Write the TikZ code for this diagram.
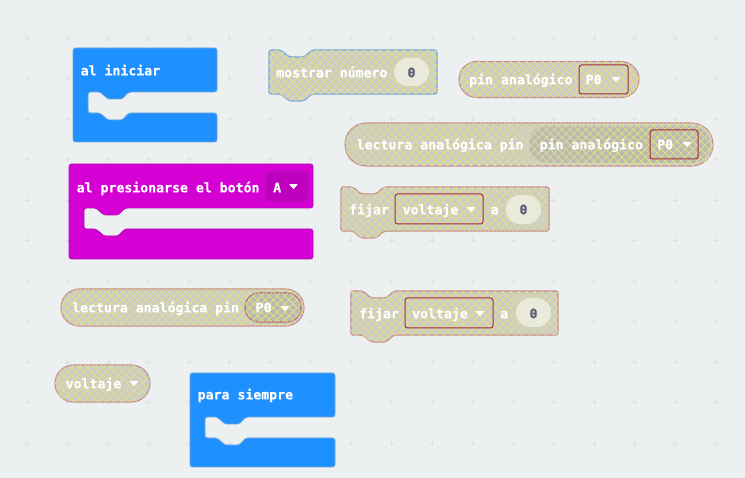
\documentclass[tikz,border=0pt]{standalone}
\usepackage{fontspec}
\setmonofont{DejaVu Sans Mono}[BoldFeatures={FakeBold=0.35}]
\usetikzlibrary{patterns.meta}
\definecolor{fondo}{HTML}{ECF0F1}
\definecolor{cruz}{HTML}{DDE1E3}
\definecolor{azul}{HTML}{1E90FF}
\definecolor{azulb}{HTML}{6FA8DC}
\definecolor{magenta}{HTML}{D400D4}
\definecolor{magentab}{HTML}{B010B0}
\definecolor{gris}{HTML}{CCCCC8}
\definecolor{grisosc}{HTML}{BABAB4}
\definecolor{amarillo}{HTML}{E0E084}
\definecolor{rojizo}{HTML}{C88A8A}
\definecolor{rojo}{HTML}{A82A3A}
\definecolor{crema}{HTML}{E9EAD9}
\definecolor{cero}{HTML}{575E75}
\tikzset{
    texto/.style={anchor=base west, inner sep=0pt, text=white, font=\fontsize{13.2}{13.2}\selectfont\ttfamily\bfseries},
    numero/.style={anchor=base, inner sep=0pt, text=cero, font=\fontsize{13.2}{13.2}\selectfont\ttfamily\bfseries},
    trama/.style={fill=#1,
        postaction={pattern={Lines[angle=45, distance=5.6pt, line width=0.8pt]}, pattern color=amarillo},
        postaction={pattern={Lines[angle=-45, distance=5.6pt, line width=0.8pt]}, pattern color=amarillo}},
    trama/.default=gris,
    inactivo/.style={trama, draw=#1, line width=1.1pt, rounded corners=2pt},
    inactivo/.default=rojizo,
    pildora/.style={trama, draw=rojizo, line width=1.1pt},
    lista/.style={draw=rojo, line width=1pt, rounded corners=2.5pt},
    hueco/.style={fill=crema, rounded corners=14pt},
    flecha/.style={fill=white, draw=white, line width=0.8pt, line join=round},
}
\begin{document}
\begin{tikzpicture}[x=1pt, y=-1pt]
    \useasboundingbox (0, 0) rectangle (745, 478);
    \fill [fondo] (0, 0) rectangle (745, 478);
    %% cruces
    \foreach \i in {0, ..., 18} {
        \foreach \j in {0, ..., 12} {
            \draw [cruz, line width=0.7pt]
                (27+40.5*\i-3, -2.5+40.5*\j) --++ (6, 0)
                (27+40.5*\i, -2.5+40.5*\j-3) --++ (0, 6)
            ;
        }
    }

    % bloques con boca
    \foreach \x/\y/\w/\h/\c/\b in {73/48/144/94/azul/azulb, 69/164/244/95/magenta/magentab, 190/373/145/94/azul/azulb} {
        \begin{scope}[shift={(\x, \y)}]
            \draw [fill=\c, draw=\b, line width=0.8pt, rounded corners=2.5pt]
                (0, 0) -- (\w, 0) -- (\w, 44) -- (56, 44)
                [rounded corners=1.5pt] -- (49, 51) -- (35, 51) -- (27, 44)
                [rounded corners=2.5pt] -- (15, 44) -- (15, 65) -- (27, 65)
                [rounded corners=1.5pt] -- (35, 72) -- (49, 72) -- (56, 65)
                [rounded corners=2.5pt] -- (\w, 65) -- (\w, \h) -- (0, \h) -- cycle
            ;
        \end{scope}
    }

    % bloques inactivos
    \foreach \x/\y/\w/\b in {269/50/168/azulb, 341/187/208/rojizo, 351/291/207/rojizo} {
        \begin{scope}[shift={(\x, \y)}]
            \draw [inactivo=\b]
                (0, 0) -- (12, 0) -- (20, 7) -- (35, 7) -- (43, 0) -- (\w, 0)
                -- (\w, 44) -- (43, 44) -- (35, 51) -- (20, 51) -- (12, 44) -- (0, 44) -- cycle
            ;
        \end{scope}
    }

    %% pildoras
    \draw [pildora, rounded corners=18pt] (459, 61.5) rectangle (639, 97.5);
    \draw [pildora, rounded corners=21.5pt] (345, 123) rectangle (713, 166);
    \draw [pildora, rounded corners=18.5pt] (61, 289) rectangle (304, 326);
    \draw [pildora, rounded corners=18.5pt] (55, 365) rectangle (150, 402);
    \path [trama=grisosc, rounded corners=18.5pt] (529, 126) rectangle (710, 163);
    \draw [trama=grisosc, draw=rojo!60!gris, line width=1.1pt, rounded corners=14pt] (245, 293) rectangle (301, 322);

    %% listas y huecos
    \draw [lista] (579, 65) rectangle (628, 94);
    \draw [lista] (650, 130) rectangle (698, 159);
    \draw [lista] (395, 194) rectangle (483, 224);
    \draw [lista] (405, 298) rectangle (493, 328);
    \draw [fill=magenta!90!black, draw=magentab, line width=1pt, rounded corners=3pt] (266, 172) rectangle (307, 201);
    \fill [hueco] (394, 58) rectangle (429, 86);
    \fill [hueco] (506, 195) rectangle (541, 224);
    \fill [hueco] (516, 298) rectangle (551, 327);

    % textos
    \draw
        node [texto] (iniciar) at (80.5, 75.3) {al iniciar}
        node [texto] (boton) at (76.5, 192.3) {al presionarse el botón}
        node [texto] (letraA) at (273, 192.3) {A}
        node [texto] (siempre) at (197.5, 399.3) {para siempre}
        node [texto] (mostrar) at (276, 77.3) {mostrar número}
        node [numero] (cero1) at (411.5, 77.3) {0}
        node [texto] (pin1) at (469, 84.3) {pin analógico}
        node [texto] (p1) at (585.5, 84.3) {P0}
        node [texto] (lectura1) at (356.5, 149.3) {lectura analógica pin}
        node [texto] (pin2) at (539.5, 149.3) {pin analógico}
        node [texto] (p2) at (657, 149.3) {P0}
        node [texto] (fijar1) at (349, 214.3) {fijar}
        node [texto] (voltaje1) at (402.5, 214.3) {voltaje}
        node [texto] (a1) at (490.5, 214.3) {a}
        node [numero] (cero2) at (523.5, 214.3) {0}
        node [texto] (lectura2) at (72, 312.3) {lectura analógica pin}
        node [texto] (p3) at (255.5, 312.3) {P0}
        node [texto] (fijar2) at (359, 318.3) {fijar}
        node [texto] (voltaje2) at (412, 318.3) {voltaje}
        node [texto] (a2) at (500, 318.3) {a}
        node [numero] (cero3) at (533.5, 318.3) {0}
        node [texto] (voltaje3) at (65.5, 388.3) {voltaje}
    ;
    %% flechas de las listas
    \foreach \x/\y in {293.5/186.5, 616/79.5, 687/144.5, 471/209.5, 480/313.5, 285/308.5, 134/383.5} {
        \draw [flecha] (\x-3.6, \y-2) -- (\x+3.6, \y-2) -- (\x, \y+2) -- cycle;
    }
\end{tikzpicture}
\end{document}
